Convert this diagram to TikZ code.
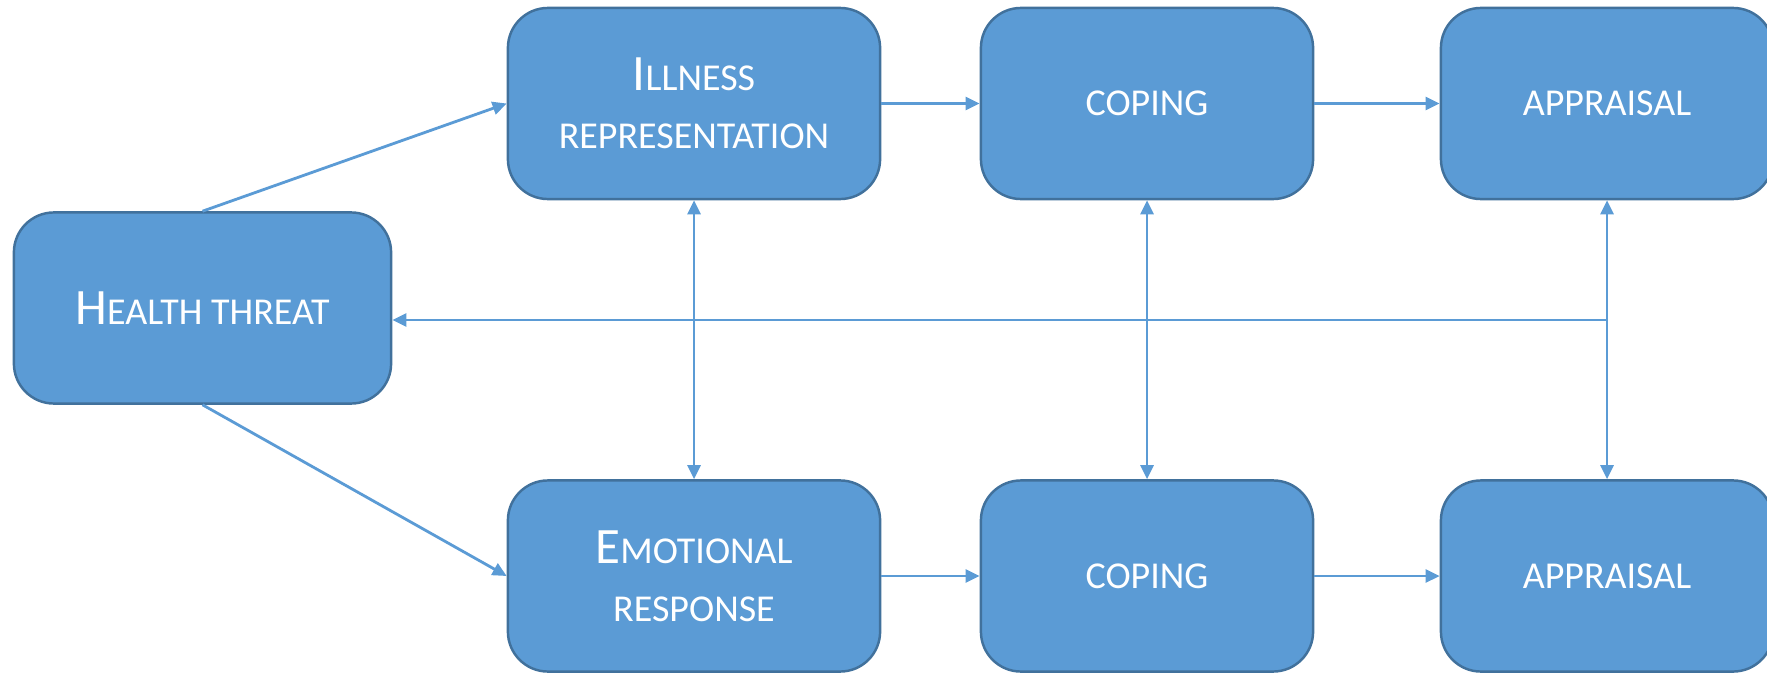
\documentclass[tikz,border=0pt]{standalone}
\usepackage{fontspec}
\setmainfont{Carlito}
\usetikzlibrary{arrows.meta,positioning}
\definecolor{boxblue}{HTML}{5B9BD5}
\definecolor{boxedge}{HTML}{41719C}
\newcommand{\smcap}[1]{{\fontsize{10.8}{16.5}\selectfont\MakeUppercase{#1}}}

\begin{document}
\begin{tikzpicture}[x=0.01cm,y=-0.01cm,
    stage/.style={draw=boxedge,fill=boxblue,line width=0.7pt,rounded corners=0.4cm,
        text=white,align=center,minimum height=1.91cm,
        font=\fontsize{14.5}{16.5}\selectfont,inner sep=0pt},
    wide/.style={stage,minimum width=3.72cm},
    narrow/.style={stage,minimum width=3.32cm},
    arr/.style={draw=boxblue,line width=0.8pt,-{Triangle[length=4pt,width=3.7pt]}},
    darr/.style={arr,{Triangle[length=4pt,width=3.7pt]}-{Triangle[length=4pt,width=3.7pt]}}]
    \useasboundingbox (0,0) rectangle (1767,673);

    % boxes
    \node[wide,minimum width=3.77cm] (ht) at (202.5,308) {H\smcap{ealth threat}};
    \node[wide] (ir) at (694,103.5) {I\smcap{llness}\\\smcap{representation}};
    \node[narrow] (cp1) at (1147,103.5) {\smcap{coping}};
    \node[narrow] (ap1) at (1607,103.5) {\smcap{appraisal}};
    \node[wide] (er) at (694,576) {E\smcap{motional}\\\smcap{response}};
    \node[narrow] (cp2) at (1147,576) {\smcap{coping}};
    \node[narrow] (ap2) at (1607,576) {\smcap{appraisal}};

    % forward arrows
    \draw[arr] (ht.north) -- (ir.west);
    \draw[arr] (ht.south) -- (er.west);
    \draw[arr] (ir.east) -- (cp1.west);
    \draw[arr] (cp1.east) -- (ap1.west);
    \draw[arr] (er.east) -- (cp2.west);
    \draw[arr] (cp2.east) -- (ap2.west);

    % links between rows
    \draw[darr] (ir.south) -- (er.north);
    \draw[darr] (cp1.south) -- (cp2.north);
    \draw[darr] (ap1.south) -- (ap2.north);

    % feedback
    \coordinate (fb) at (1607,320);
    \draw[arr] (fb) -- (fb -| ht.east);
\end{tikzpicture}
\end{document}
